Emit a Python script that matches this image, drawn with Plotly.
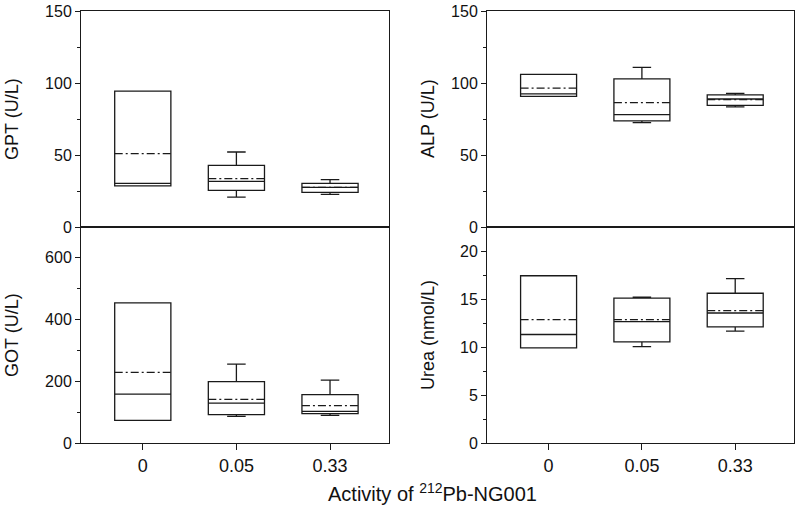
import plotly.graph_objects as go

categories = ["0", "0.05", "0.33"]

# GPT (U/L)
gpt_low = [28.5, 20.8, 22.7]
gpt_q1 = [28.5, 25.5, 24.1]
gpt_med = [30.3, 31.7, 27.5]
gpt_q3 = [94.4, 42.8, 30.3]
gpt_high = [94.4, 52.1, 32.9]
gpt_mean = [50.9, 33.6, 27.6]

# ALP (U/L)
alp_low = [90.7, 72.5, 83.4]
alp_q1 = [90.7, 73.7, 84.5]
alp_med = [92.4, 78.0, 88.9]
alp_q3 = [106.0, 102.8, 91.7]
alp_high = [106.0, 110.8, 92.8]
alp_mean = [96.5, 86.4, 88.4]

# GOT (U/L)
got_low = [73.5, 86.4, 89.6]
got_q1 = [73.5, 91.9, 95.1]
got_med = [158.6, 129.4, 102.6]
got_q3 = [454.0, 198.7, 156.6]
got_high = [454.0, 255.7, 204.0]
got_mean = [229.0, 141.4, 121.0]

# Urea (nmol/L)
urea_low = [9.95, 10.08, 11.7]
urea_q1 = [9.95, 10.58, 12.15]
urea_med = [11.35, 12.7, 13.6]
urea_q3 = [17.5, 15.15, 15.67]
urea_high = [17.5, 15.25, 17.2]
urea_mean = [12.9, 12.9, 13.85]

panels = [
    # (xaxis id, yaxis id, low, q1, med, q3, high, mean)
    ("x", "y", gpt_low, gpt_q1, gpt_med, gpt_q3, gpt_high, gpt_mean),
    ("x2", "y2", alp_low, alp_q1, alp_med, alp_q3, alp_high, alp_mean),
    ("x3", "y3", got_low, got_q1, got_med, got_q3, got_high, got_mean),
    ("x4", "y4", urea_low, urea_q1, urea_med, urea_q3, urea_high, urea_mean),
]

BOXW = 0.6
LC = "#1a1a1a"
fig = go.Figure()
positions = list(range(len(categories)))
for xa, ya, lo, q1, md, q3, hi, mn in panels:
    fig.add_trace(go.Box(
        x=positions, q1=q1, median=md, q3=q3, lowerfence=lo, upperfence=hi,
        width=BOXW, whiskerwidth=0.33, fillcolor="rgba(0,0,0,0)",
        line=dict(color=LC, width=1.3), boxpoints=False,
        xaxis=xa, yaxis=ya, showlegend=False,
    ))
    mx, my = [], []
    for p, m in zip(positions, mn):
        mx += [p - BOXW / 2, p + BOXW / 2, None]
        my += [m, m, None]
    fig.add_trace(go.Scatter(
        x=mx, y=my, mode="lines",
        line=dict(color=LC, width=1.2, dash="8px,3px,2px,3px"),
        xaxis=xa, yaxis=ya, showlegend=False, hoverinfo="skip",
    ))

FONT = "Liberation Sans, Arial, sans-serif"
W, H = 800, 511
xl = [81 / W, 389 / W]
xr = [487 / W, 794 / W]
ytop = [(H - 227) / H, (H - 11) / H]
ybot = [(H - 443) / H, (H - 227) / H]
xrange_ = [-0.66, 2.63]

def xaxis(domain, anchor, show_labels):
    d = dict(domain=domain, anchor=anchor, range=xrange_, showline=True, mirror=True,
             linecolor=LC, linewidth=1.0, showgrid=False, zeroline=False, automargin=False,
             tickmode="array", tickvals=positions, ticktext=categories,
             tickfont=dict(family=FONT, size=18, color="#111"))
    if show_labels:
        d.update(ticks="outside", ticklen=6, tickcolor=LC, showticklabels=True)
    else:
        d.update(ticks="", showticklabels=False)
    return d

def yaxis(domain, anchor, rng, dtick, minor):
    return dict(domain=domain, anchor=anchor, range=rng, dtick=dtick, showline=True,
                mirror=True, linecolor=LC, linewidth=1.0, showgrid=False, zeroline=False,
                automargin=False,
                ticks="outside", ticklen=5, tickcolor=LC, tickwidth=1,
                minor=dict(ticks="outside", ticklen=3, dtick=minor, tickcolor=LC, showgrid=False),
                tickfont=dict(family=FONT, size=16, color="#111"))

fig.update_layout(
    width=W, height=H, margin=dict(l=0, r=0, t=0, b=0, autoexpand=False),
    paper_bgcolor="white", plot_bgcolor="white",
    xaxis=xaxis(xl, "y", False),
    yaxis=yaxis(ytop, "x", [0, 150], 50, 25),
    xaxis2=xaxis(xr, "y2", False),
    yaxis2=yaxis(ytop, "x2", [0, 150], 50, 25),
    xaxis3=xaxis(xl, "y3", True),
    yaxis3=yaxis(ybot, "x3", [0, 700], 200, 100),
    xaxis4=xaxis(xr, "y4", True),
    yaxis4=yaxis(ybot, "x4", [0, 22.6], 5, 2.5),
)

titles = [
    ("GPT (U/L)", 12 / W, (H - 119) / H),
    ("ALP (U/L)", 428 / W, (H - 119) / H),
    ("GOT (U/L)", 12 / W, (H - 335) / H),
    ("Urea (nmol/L)", 428 / W, (H - 335) / H),
]
for t, x, y in titles:
    fig.add_annotation(text=t, x=x, y=y, xref="paper", yref="paper", textangle=-90,
                       showarrow=False, xanchor="center", yanchor="middle",
                       font=dict(family=FONT, size=18, color="#111"))
fig.add_annotation(text="Activity of <sup>212</sup>Pb-NG001", x=432 / W, y=(H - 492) / H,
                   xref="paper", yref="paper", showarrow=False, xanchor="center",
                   yanchor="middle", font=dict(family=FONT, size=20, color="#111"))

fig.write_html("out.html", config={"displayModeBar": False},
               post_script="document.body.style.margin='0';document.body.style.overflow='hidden';")
